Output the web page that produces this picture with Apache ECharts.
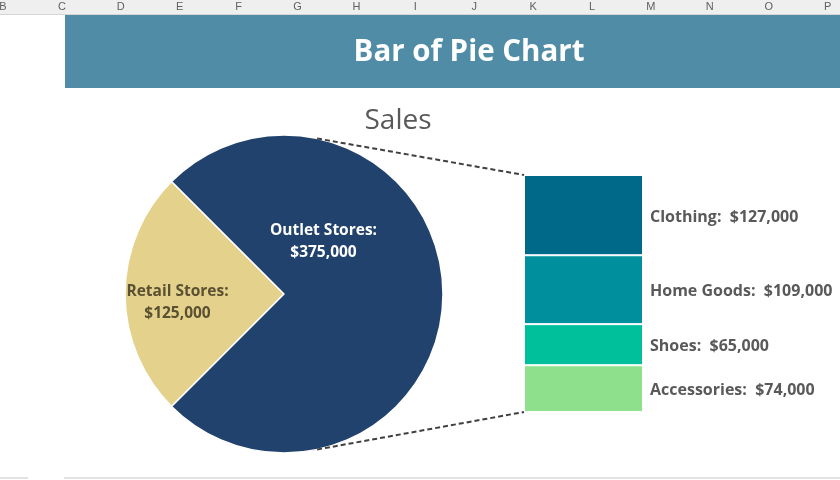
<!DOCTYPE html>
<html>
<head>
<meta charset="utf-8">
<title>Bar of Pie Chart</title>
<script src="https://cdn.jsdelivr.net/npm/echarts@6/dist/echarts.min.js"></script>
<style>
  html, body { margin: 0; padding: 0; background: #fff; }
  #main { width: 840px; height: 480px; }
</style>
</head>
<body>
<div id="main"></div>
<script>
// 数据
var pieNames = ['Retail Stores', 'Outlet Stores'];
var pieValues = [125000, 375000];
var barNames = ['Accessories', 'Shoes', 'Home Goods', 'Clothing'];   // 从下往上堆叠
var barValues = [74000, 65000, 109000, 127000];
var colLetters = ['B', 'C', 'D', 'E', 'F', 'G', 'H', 'I', 'J', 'K', 'L', 'M', 'N', 'O', 'P'];

var pieColors = ['#e4d28c', '#22426e'];
var barColors = ['#8fe08c', '#00c09b', '#008f9c', '#00698a'];

var FONT = '"Open Sans", "Noto Sans", sans-serif';
var pieCenter = [284, 294];
var pieRadius = 159;
var grid = { left: 524, top: 175, width: 119, height: 237 };

function money(v) {
  return '$' + v.toLocaleString('en-US');
}

var myChart = echarts.init(document.getElementById('main'));

// Excel 列头
var headerGraphics = [
  { type: 'rect', shape: { x: 0, y: 0, width: 840, height: 14 }, style: { fill: '#efefef' }, z: 0 },
  { type: 'rect', shape: { x: 0, y: 14, width: 840, height: 1 }, style: { fill: '#d6d6d6' }, z: 0 },
  // 标题横幅
  { type: 'rect', shape: { x: 65, y: 15, width: 775, height: 73 }, style: { fill: '#518ca6' }, z: 0 },
  // 底部网格线
  { type: 'rect', shape: { x: 0, y: 477, width: 28, height: 2 }, style: { fill: '#e2e2e2' }, z: 0 },
  { type: 'rect', shape: { x: 64, y: 477, width: 776, height: 2 }, style: { fill: '#e2e2e2' }, z: 0 }
];
colLetters.forEach(function (c, i) {
  headerGraphics.push({
    type: 'text',
    x: 3 + i * 58.9,
    y: 7,
    style: { text: c, fill: '#606060', font: '11px "Liberation Sans", sans-serif', textAlign: 'center', textVerticalAlign: 'middle' },
    z: 1
  });
});

var option = {
  animation: false,
  backgroundColor: '#fff',
  title: [
    {
      text: 'Bar of Pie Chart',
      left: 464, top: 33, textAlign: 'center',
      textStyle: { color: '#fff', fontSize: 29.5, fontWeight: 'bold', fontFamily: FONT }
    },
    {
      text: 'Sales',
      left: 393, top: 102, textAlign: 'center',
      textStyle: { color: '#595959', fontSize: 28, fontWeight: 'normal', fontFamily: FONT }
    }
  ],
  grid: grid,
  xAxis: { type: 'category', data: ['Outlet Stores'], show: false },
  yAxis: { type: 'value', min: 0, max: 375000, show: false },
  graphic: headerGraphics,
  series: [
    {
      type: 'pie',
      center: pieCenter,
      radius: pieRadius,
      startAngle: 225,
      clockwise: true,
      silent: true,
      itemStyle: { borderColor: '#fff', borderWidth: 1.5 },
      label: {
        show: true,
        position: 'inside',
        fontFamily: FONT,
        fontSize: 15.5,
        fontWeight: 'bold',
        lineHeight: 22,
        formatter: function (p) { return p.name + ':\n' + money(p.value); }
      },
      data: pieNames.map(function (n, i) {
        return {
          name: n,
          value: pieValues[i],
          itemStyle: { color: pieColors[i] },
          label: i === 0
            ? { color: '#5a5032', offset: [-24, 9] }
            : { color: '#fff', offset: [-43, -52] }
        };
      })
    }
  ].concat(barNames.map(function (n, i) {
    return {
      type: 'bar',
      name: n,
      stack: 'outlet',
      barWidth: '100%',
      silent: true,
      itemStyle: { color: barColors[i], borderColor: '#fff', borderWidth: 1 },
      label: {
        show: true,
        position: 'right',
        distance: 7,
        offset: [0, 2],
        color: '#595959',
        fontFamily: FONT,
        fontSize: 16,
        fontWeight: 'bold',
        formatter: function (p) { return p.seriesName + ':  ' + money(p.value); }
      },
      data: [barValues[i]]
    };
  }))
};

myChart.setOption(option);

// 连接线：饼图外缘到堆叠柱的上下角
var total = barValues.reduce(function (a, b) { return a + b; }, 0);
var yTop = myChart.convertToPixel({ yAxisIndex: 0 }, total);
var yBottom = myChart.convertToPixel({ yAxisIndex: 0 }, 0);
var ang = 78 * Math.PI / 180;
var pTop = [pieCenter[0] + pieRadius * Math.cos(ang), pieCenter[1] - pieRadius * Math.sin(ang)];
var pBottom = [pieCenter[0] + pieRadius * Math.cos(ang), pieCenter[1] + pieRadius * Math.sin(ang)];
var lineStyle = { stroke: '#404040', lineWidth: 2, lineDash: [5, 3] };

myChart.setOption({
  graphic: headerGraphics.concat([
    { type: 'line', shape: { x1: pTop[0], y1: pTop[1], x2: grid.left, y2: yTop }, style: lineStyle, z: 5 },
    { type: 'line', shape: { x1: pBottom[0], y1: pBottom[1], x2: grid.left, y2: yBottom }, style: lineStyle, z: 5 }
  ])
});
</script>
</body>
</html>
